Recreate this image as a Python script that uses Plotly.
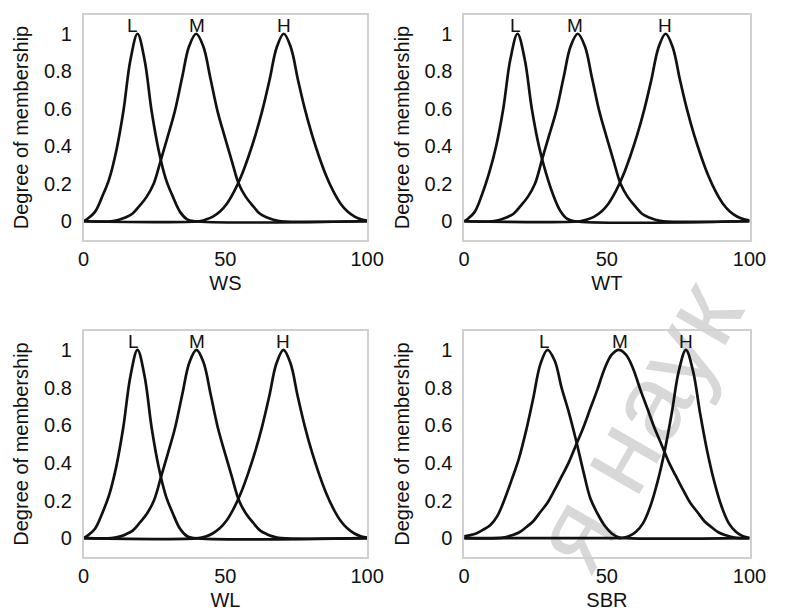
import plotly.graph_objects as go

# ---------------- data ----------------
panel_titles = ["WS", "WT", "WL", "SBR"]
set_names = ["L", "M", "H"]
x_ticks = [0, 50, 100]
y_ticks = [0, 0.2, 0.4, 0.6, 0.8, 1]

# WS
ws_L_x = [0, 1.5, 4, 6.5, 9, 11.5, 14, 16.5, 19, 21.5, 24, 26.5, 29, 31.5, 34, 36.5, 39, 100]
ws_L_y = [0, 0.015, 0.05, 0.13, 0.225, 0.375, 0.585, 0.86, 1, 0.86, 0.585, 0.375, 0.225, 0.13, 0.05, 0.01, 0, 0]
ws_M_x = [0, 9.7, 12.2, 14.7, 17.2, 19.7, 22.2, 24.7, 27.2, 29.7, 32.2, 34.7, 37.2, 39.7,
          42.2, 44.7, 47.2, 49.7, 52.2, 54.7, 57.2, 59.7, 62.2, 64.7, 67.2, 69.7, 100]
ws_M_y = [0, 0, 0.007, 0.02, 0.04, 0.082, 0.13, 0.2, 0.325, 0.454, 0.589, 0.764, 0.933, 1,
          0.933, 0.764, 0.589, 0.454, 0.325, 0.2, 0.13, 0.082, 0.04, 0.02, 0.007, 0, 0]
ws_H_x = [0, 40.6, 43.1, 45.6, 48.1, 50.6, 53.1, 55.6, 58.1, 60.6, 63.1, 65.6, 68.1, 70.6,
          73.1, 75.6, 78.1, 80.6, 83.1, 85.6, 88.1, 90.6, 93.1, 95.6, 98.1, 100]
ws_H_y = [0, 0, 0.009, 0.025, 0.052, 0.095, 0.159, 0.241, 0.343, 0.459, 0.595, 0.755, 0.927, 1,
          0.927, 0.755, 0.595, 0.459, 0.343, 0.241, 0.159, 0.095, 0.052, 0.025, 0.009, 0.003]

# WT
wt_L_x = [0, 1.2, 3.7, 6.2, 8.7, 11.2, 13.7, 16.2, 18.7, 21.2, 23.7, 26.2, 28.7, 31.2, 33.7, 36.2, 38.7, 100]
wt_L_y = [0, 0.012, 0.05, 0.14, 0.255, 0.4, 0.6, 0.865, 1, 0.865, 0.6, 0.4, 0.255, 0.14, 0.055, 0.012, 0, 0]
wt_M_x = [0, 9.8, 12.3, 14.8, 17.3, 19.8, 22.3, 24.8, 27.3, 29.8, 32.3, 34.8, 37.3, 39.8,
          42.3, 44.8, 47.3, 49.8, 52.3, 54.8, 57.3, 59.8, 62.3, 64.8, 67.3, 69.8, 100]
wt_M_y = [0, 0, 0.007, 0.02, 0.04, 0.082, 0.13, 0.2, 0.33, 0.46, 0.59, 0.764, 0.933, 1,
          0.933, 0.764, 0.59, 0.454, 0.325, 0.2, 0.13, 0.082, 0.04, 0.02, 0.007, 0, 0]
wt_H_x = [0, 40.6, 43.1, 45.6, 48.1, 50.6, 53.1, 55.6, 58.1, 60.6, 63.1, 65.6, 68.1, 70.6,
          73.1, 75.6, 78.1, 80.6, 83.1, 85.6, 88.1, 90.6, 93.1, 95.6, 98.1, 100]
wt_H_y = [0, 0, 0.009, 0.025, 0.052, 0.095, 0.159, 0.241, 0.343, 0.459, 0.595, 0.755, 0.927, 1,
          0.927, 0.755, 0.595, 0.459, 0.343, 0.241, 0.159, 0.095, 0.052, 0.025, 0.01, 0.004]

# WL
wl_L_x = [0, 1.5, 4, 6.5, 9, 11.5, 14, 16.5, 19, 21.5, 24, 26.5, 29, 31.5, 34, 36.5, 39, 100]
wl_L_y = [0, 0.015, 0.05, 0.13, 0.23, 0.38, 0.59, 0.86, 1, 0.86, 0.585, 0.375, 0.225, 0.13, 0.05, 0.01, 0, 0]
wl_M_x = [0, 9.8, 12.3, 14.8, 17.3, 19.8, 22.3, 24.8, 27.3, 29.8, 32.3, 34.8, 37.3, 39.8,
          42.3, 44.8, 47.3, 49.8, 52.3, 54.8, 57.3, 59.8, 62.3, 64.8, 67.3, 69.8, 100]
wl_M_y = [0, 0, 0.007, 0.02, 0.04, 0.082, 0.13, 0.2, 0.325, 0.454, 0.589, 0.764, 0.933, 1,
          0.933, 0.764, 0.589, 0.454, 0.325, 0.2, 0.13, 0.082, 0.04, 0.02, 0.007, 0, 0]
wl_H_x = [0, 40.5, 43.0, 45.5, 48.0, 50.5, 53.0, 55.5, 58.0, 60.5, 63.0, 65.5, 68.0, 70.5,
          73.0, 75.5, 78.0, 80.5, 83.0, 85.5, 88.0, 90.5, 93.0, 95.5, 98.0, 100]
wl_H_y = [0, 0, 0.009, 0.025, 0.052, 0.095, 0.159, 0.241, 0.343, 0.459, 0.595, 0.755, 0.927, 1,
          0.927, 0.755, 0.595, 0.459, 0.343, 0.241, 0.159, 0.095, 0.052, 0.025, 0.009, 0.003]

# SBR
sbr_L_x = [0, 1.7, 4.2, 6.7, 9.2, 11.7, 14.2, 16.7, 19.2, 21.7, 24.2, 26.7, 29.2,
           31.7, 34.2, 36.7, 39.2, 41.7, 44.2, 46.7, 49.2, 51.7, 54.2, 56.7, 100]
sbr_L_y = [0.01, 0.015, 0.025, 0.045, 0.07, 0.12, 0.208, 0.312, 0.424, 0.571, 0.743, 0.924, 1,
           0.943, 0.795, 0.667, 0.52, 0.359, 0.212, 0.131, 0.067, 0.025, 0.005, 0, 0]
sbr_M_x = [0, 11.7, 14.2, 16.7, 19.2, 21.7, 24.2, 26.7, 29.2, 31.7, 34.2, 36.7, 39.2, 41.7,
           44.2, 46.7, 49.2, 51.7, 54.2, 56.7, 59.2, 61.7, 64.2, 66.7, 69.2, 71.7, 74.2,
           76.7, 79.2, 81.7, 84.2, 86.7, 89.2, 91.7, 94.2, 96.7, 100]
sbr_M_y = [0, 0, 0.004, 0.015, 0.03, 0.058, 0.09, 0.139, 0.188, 0.256, 0.329, 0.404, 0.495, 0.585,
           0.688, 0.79, 0.90, 0.974, 1, 0.974, 0.90, 0.79, 0.688, 0.585, 0.495, 0.404, 0.329,
           0.256, 0.188, 0.139, 0.09, 0.058, 0.03, 0.015, 0.004, 0, 0]
sbr_H_x = [0, 52.7, 55.2, 57.7, 60.2, 62.7, 65.2, 67.7, 70.2, 72.7, 75.2, 77.7,
           80.2, 82.7, 85.2, 87.7, 90.2, 92.7, 95.2, 97.7, 100]
sbr_H_y = [0, 0, 0, 0.01, 0.034, 0.08, 0.168, 0.296, 0.459, 0.661, 0.887, 1,
           0.887, 0.661, 0.459, 0.296, 0.168, 0.08, 0.034, 0.01, 0.001]

# label (L/M/H) x positions per panel
ws_label_x = [17.2, 40.0, 70.8]
wt_label_x = [18.0, 39.0, 70.2]
wl_label_x = [17.7, 40.0, 70.4]
sbr_label_x = [28.3, 54.7, 77.8]

watermark_text = "я наук"

# ---------------- figure ----------------
W, H = 785, 611
FONT = "Liberation Sans, Arial, sans-serif"

def px_x(p):
    return p / W

def px_y(p):
    return 1 - p / H

panels = [
    (1, [(ws_L_x, ws_L_y), (ws_M_x, ws_M_y), (ws_H_x, ws_H_y)], ws_label_x,
     (80, 372), (15, 240)),
    (2, [(wt_L_x, wt_L_y), (wt_M_x, wt_M_y), (wt_H_x, wt_H_y)], wt_label_x,
     (472, 766), (15, 240)),
    (3, [(wl_L_x, wl_L_y), (wl_M_x, wl_M_y), (wl_H_x, wl_H_y)], wl_label_x,
     (80, 372), (331, 557)),
    (4, [(sbr_L_x, sbr_L_y), (sbr_M_x, sbr_M_y), (sbr_H_x, sbr_H_y)], sbr_label_x,
     (472, 766), (331, 557)),
]

fig = go.Figure()
layout = {}
annotations = []

for i, (k, curves, lab_x, (xl, xr), (yt, yb)) in enumerate(panels):
    xa = "x" if k == 1 else f"x{k}"
    ya = "y" if k == 1 else f"y{k}"
    for name, (cx, cy) in zip(set_names, curves):
        fig.add_trace(go.Scatter(
            x=cx, y=cy, mode="lines", name=f"{panel_titles[i]} {name}",
            line=dict(color="#111111", width=2.7, shape="spline", smoothing=1.0),
            xaxis=xa, yaxis=ya, showlegend=False, hoverinfo="skip"))
    for name, lx in zip(set_names, lab_x):
        annotations.append(dict(
            x=lx, y=1.045, xref=xa, yref=ya, text=name, showarrow=False,
            font=dict(family=FONT, size=19, color="#111111"),
            xanchor="center", yanchor="middle"))
    axis_common = dict(showgrid=False, zeroline=False, showline=True, mirror=True,
                       linecolor="#d0d0d0", linewidth=1.5, ticks="",
                       tickfont=dict(family=FONT, size=20, color="#111111"))
    layout["xaxis" if k == 1 else f"xaxis{k}"] = dict(
        domain=[px_x(xl), px_x(xr)], range=[0, 100], tickvals=x_ticks,
        anchor=ya, ticklabelstandoff=0,
        title=dict(text=panel_titles[i], standoff=7,
                   font=dict(family=FONT, size=20, color="#111111")),
        **axis_common)
    layout["yaxis" if k == 1 else f"yaxis{k}"] = dict(
        domain=[px_y(yb), px_y(yt)], range=[-0.1, 1.1], tickvals=y_ticks,
        anchor=xa, ticklabelstandoff=6,
        title=dict(text="Degree of membership", standoff=10,
                   font=dict(family=FONT, size=20, color="#111111")),
        **axis_common)

fig.update_layout(
    width=W, height=H, margin=dict(l=0, r=0, t=0, b=0),
    paper_bgcolor="white", plot_bgcolor="rgba(0,0,0,0)",
    annotations=annotations, **layout)

# faint diagonal watermark, drawn beneath the curves, kept inside the page
fig.add_shape(type="rect", xref="paper", yref="paper",
              x0=px_x(630), x1=px_x(650), y0=px_y(430), y1=px_y(410),
              line=dict(width=0), fillcolor="rgba(0,0,0,0)", layer="below",
              label=dict(text=watermark_text, textangle=-60,
                         textposition="middle center",
                         font=dict(family=FONT, size=108, color="#d8d8d8")))

fig.write_html("out.html")
